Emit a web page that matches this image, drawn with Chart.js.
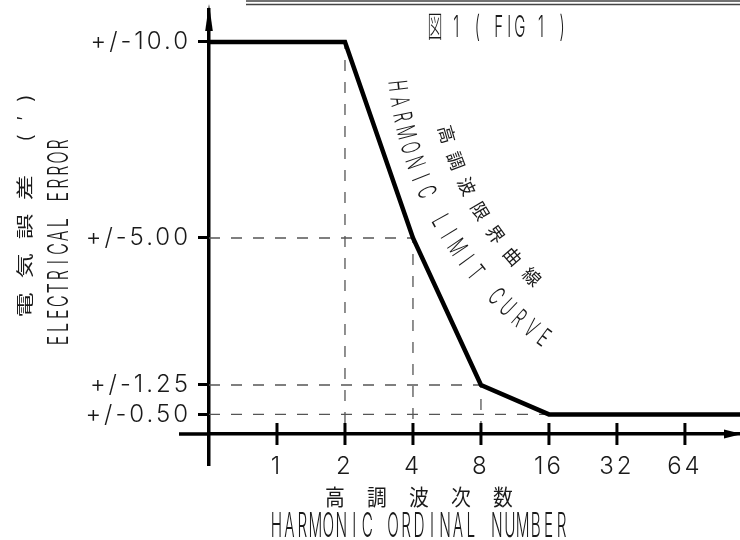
<!DOCTYPE html>
<html>
<head>
<meta charset="utf-8">
<script src="https://cdn.jsdelivr.net/npm/chart.js@4.4.1/dist/chart.umd.min.js"></script>
<style>
  html, body { margin: 0; padding: 0; background: #fff; overflow: hidden; }
  canvas { display: block; }
</style>
</head>
<body>
<canvas id="chart" width="740" height="540"></canvas>
<script>
// harmonic orders, drawn evenly spaced (1, 2, 4 ... 64)
var harmonicPos = [1, 2, 3, 4, 5, 6, 7];
var harmonicLabels = ['1', '2', '4', '8', '16', '32', '64'];

// electrical error ticks
var errorTicks = [10, 5, 1.25, 0.5];
var errorLabels = ['+/-10.0', '+/-5.00', '+/-1.25', '+/-0.50'];

// harmonic limit curve (last point runs out to the end of the axis)
var limitX = [0, 2, 3, 4, 5, 7.81];
var limitY = [10, 10, 5, 1.25, 0.5, 0.5];

// corners of the curve that get dashed guide lines
var kneeX = [2, 3, 4, 5];
var kneeY = [10, 5, 1.25, 0.5];

var X_MIN = 0, X_MAX = 7.81, Y_MIN = -0.791, Y_MAX = 10.816;

var latinFont = 'Inter, "Liberation Sans", sans-serif';
var cjkFont = '"Noto Sans CJK JP", sans-serif';
var mixFont = 'Inter, "Noto Sans CJK JP", sans-serif';
var ink = '#1a1a1a';

// draw a string one glyph at a time on a fixed pitch (CAD style lettering)
function drawRun(ctx, text, x0, y0, rot, pitch, size, sx, family, weight) {
	ctx.save();
	ctx.translate(x0, y0);
	ctx.rotate(rot);
	ctx.font = (weight || 300) + ' ' + size + 'px ' + family;
	ctx.textAlign = 'center';
	ctx.textBaseline = 'alphabetic';
	for (var i = 0; i < text.length; i++) {
		if (text[i] === ' ') continue;
		ctx.save();
		ctx.translate(i * pitch, size * 0.36);
		ctx.scale(sx, 1);
		ctx.fillText(text[i], 0, 0);
		ctx.restore();
	}
	ctx.restore();
}

// same but following a circular arc, letter tops toward the centre
function drawArc(ctx, text, cx, cy, r, a0, pitch, size, sx, family, weight) {
	ctx.save();
	ctx.font = (weight || 300) + ' ' + size + 'px ' + family;
	ctx.textAlign = 'center';
	ctx.textBaseline = 'alphabetic';
	for (var i = 0; i < text.length; i++) {
		if (text[i] === ' ') continue;
		var a = a0 - i * pitch / r;
		ctx.save();
		ctx.translate(cx + r * Math.cos(a), cy + r * Math.sin(a));
		ctx.rotate(Math.atan2(-Math.cos(a), Math.sin(a)));
		ctx.translate(0, size * 0.36);
		ctx.scale(sx, 1);
		ctx.fillText(text[i], 0, 0);
		ctx.restore();
	}
	ctx.restore();
}

var deg = Math.PI / 180;

var drawingBits = {
	id: 'drawingBits',
	beforeDraw: function (chart) {
		chart.ctx.letterSpacing = '3px';
	},
	afterDraw: function (chart) {
		var ctx = chart.ctx,
			xs = chart.scales.x,
			ys = chart.scales.y,
			area = chart.chartArea,
			ox = xs.getPixelForValue(0),
			oy = ys.getPixelForValue(0);

		ctx.save();
		ctx.letterSpacing = '0px';

		// x axis runs a little past the y axis
		ctx.strokeStyle = '#000';
		ctx.lineWidth = 3.5;
		ctx.beginPath();
		ctx.moveTo(ox - 30, oy);
		ctx.lineTo(ox, oy);
		ctx.stroke();

		// arrow heads
		ctx.fillStyle = '#000';
		ctx.beginPath();
		ctx.moveTo(ox, area.top - 6);
		ctx.lineTo(ox - 3.8, area.top + 21);
		ctx.lineTo(ox + 3.8, area.top + 21);
		ctx.closePath();
		ctx.fill();
		ctx.beginPath();
		ctx.moveTo(area.right + 2, oy);
		ctx.lineTo(area.right - 16, oy - 4.5);
		ctx.lineTo(area.right - 16, oy + 4.5);
		ctx.closePath();
		ctx.fill();

		// double rule along the top
		ctx.strokeStyle = '#444';
		ctx.lineWidth = 1.3;
		ctx.beginPath();
		ctx.moveTo(246, 1); ctx.lineTo(740, 1);
		ctx.moveTo(246, 4.5); ctx.lineTo(740, 4.5);
		ctx.stroke();

		ctx.fillStyle = ink;

		// figure title
		drawRun(ctx, '図 1 ( FIG 1 )', 435, 26, 0, 10.6, 30, 0.5, mixFont);

		// y axis title
		drawRun(ctx, '電 気 誤 差', 25, 305, -90 * deg, 19.6, 17, 1.5, cjkFont, 400);
		drawRun(ctx, '(′)', 25, 138, -90 * deg, 20, 20, 1.2, mixFont);
		drawRun(ctx, 'ELECTRICAL ERROR', 57.5, 340.5, -90 * deg, 13.07, 29, 0.55, latinFont);

		// x axis title
		drawRun(ctx, '高調波次数', 335, 497.5, 0, 42, 22, 0.9, cjkFont, 400);
		drawRun(ctx, 'HARMONIC ORDINAL NUMBER', 276.5, 524.5, 0, 12.96, 34, 0.45, latinFont);

		// curve label, bent round a circle
		var cx = xs.getPixelForValue(8.1),
			cy = ys.getPixelForValue(9.95);
		drawArc(ctx, 'HARMONIC LIMIT CURVE', cx, cy, 364, 173.4 * deg, 15.75, 26, 0.55, latinFont);
		drawArc(ctx, '高調波限界曲線', cx, cy, 326, 163.9 * deg, 28, 18, 1.0, cjkFont, 400);

		ctx.restore();
	}
};

var datasets = [];

kneeX.forEach(function (kx, i) {
	datasets.push({
		data: [{x: 0, y: kneeY[i]}, {x: kx, y: kneeY[i]}, {x: kx, y: 0}],
		borderColor: '#555',
		borderWidth: 1.3,
		borderDash: [11, 11],
		pointRadius: 0,
		order: 3
	});
});

datasets.push({
	data: limitX.map(function (x, i) { return {x: x, y: limitY[i]}; }),
	borderColor: '#000',
	borderWidth: 4.5,
	borderJoinStyle: 'miter',
	pointRadius: 0,
	order: 1
});

// tick marks crossing the x axis
datasets.push({
	data: harmonicPos.map(function (p) { return {x: p, y: 0}; }),
	showLine: false,
	pointStyle: 'line',
	pointRotation: 90,
	pointRadius: 11,
	pointBorderWidth: 3,
	pointBorderColor: '#000',
	order: 0
});

new Chart(document.getElementById('chart'), {
	type: 'line',
	data: { datasets: datasets },
	plugins: [drawingBits],
	options: {
		responsive: false,
		animation: false,
		events: [],
		layout: { autoPadding: false, padding: { left: 0, top: 10, right: 0, bottom: 75 } },
		plugins: { legend: { display: false }, tooltip: { enabled: false } },
		scales: {
			x: {
				type: 'linear',
				min: X_MIN,
				max: X_MAX,
				position: { y: 0 },
				afterBuildTicks: function (scale) {
					scale.ticks = harmonicPos.map(function (v) { return {value: v}; });
				},
				ticks: {
					autoSkip: false,
					maxRotation: 0,
					padding: 18,
					color: ink,
					font: { family: latinFont, size: 24, weight: 300 },
					callback: function (v) {
						var i = harmonicPos.indexOf(v);
						return i < 0 ? '' : harmonicLabels[i];
					}
				},
				grid: { display: false, drawTicks: false },
				border: { display: true, color: '#000', width: 3.5 }
			},
			y: {
				type: 'linear',
				min: Y_MIN,
				max: Y_MAX,
				position: 'left',
				afterFit: function (scale) { scale.width = 209; },
				afterBuildTicks: function (scale) {
					scale.ticks = errorTicks.map(function (v) { return {value: v}; });
				},
				ticks: {
					autoSkip: false,
					padding: 7,
					color: ink,
					font: { family: latinFont, size: 24, weight: 300, lineHeight: 0.2 },
					callback: function (v) {
						var i = errorTicks.indexOf(v);
						return i < 0 ? '' : errorLabels[i];
					}
				},
				grid: {
					display: true,
					drawOnChartArea: false,
					drawTicks: true,
					tickLength: 11,
					tickWidth: 3,
					tickColor: '#000'
				},
				border: { display: true, color: '#000', width: 3.5 }
			}
		}
	}
});
</script>
</body>
</html>
